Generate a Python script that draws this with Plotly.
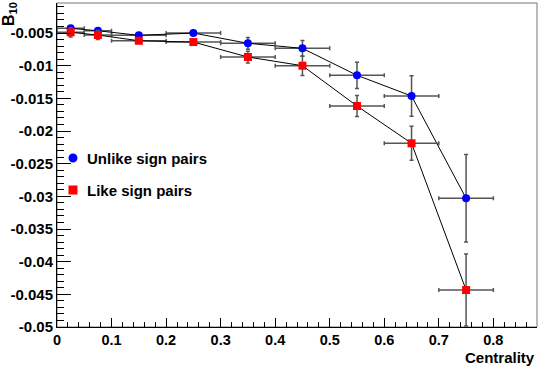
import plotly.graph_objects as go

centrality = [0.025, 0.075, 0.15, 0.25, 0.35, 0.45, 0.55, 0.65, 0.75]
centrality_err = [0.025, 0.025, 0.05, 0.05, 0.05, 0.05, 0.05, 0.05, 0.05]

unlike_vals = [-0.00428, -0.00465, -0.00535, -0.0050, -0.00657, -0.00734, -0.01147, -0.01464, -0.0303]
unlike_errs = [0.0004, 0.0004, 0.0002, 0.0002, 0.0009, 0.0012, 0.0020, 0.0031, 0.0067]

like_vals = [-0.00489, -0.00530, -0.00618, -0.00638, -0.00867, -0.0100, -0.01617, -0.02188, -0.04434]
like_errs = [0.0007, 0.0007, 0.0002, 0.0002, 0.0009, 0.0015, 0.0016, 0.0026, 0.0055]

x_tick_vals = [0, 0.1, 0.2, 0.3, 0.4, 0.5, 0.6, 0.7, 0.8]
x_tick_labels = ["0", "0.1", "0.2", "0.3", "0.4", "0.5", "0.6", "0.7", "0.8"]
y_tick_vals = [-0.005, -0.01, -0.015, -0.02, -0.025, -0.03, -0.035, -0.04, -0.045, -0.05]
y_tick_labels = ["-0.005", "-0.01", "-0.015", "-0.02", "-0.025", "-0.03", "-0.035", "-0.04", "-0.045", "-0.05"]

unlike_name = "Unlike sign pairs"
like_name = "Like sign pairs"

FONT = "Liberation Sans, Arial, Helvetica, sans-serif"
ERRCOL = "#555555"

fig = go.Figure()

def add_series(yv, ye, color, symbol, name):
    fig.add_trace(go.Scatter(
        x=centrality, y=yv, mode="lines+markers", name=name,
        line=dict(color="black", width=1),
        marker=dict(color=color, symbol=symbol, size=8, line=dict(width=0)),
        error_x=dict(type="data", array=centrality_err, color=ERRCOL, thickness=1.5, width=2),
        error_y=dict(type="data", array=ye, color=ERRCOL, thickness=1.5, width=2),
        showlegend=False,
    ))

add_series(unlike_vals, unlike_errs, "#0000ff", "circle", unlike_name)
add_series(like_vals, like_errs, "#ff0000", "square", like_name)

fig.update_layout(
    width=540, height=369,
    margin=dict(l=57, r=3, t=3, b=42),
    paper_bgcolor="white", plot_bgcolor="white",
    xaxis=dict(
        range=[0, 0.88], tickmode="array", tickvals=x_tick_vals, ticktext=x_tick_labels,
        ticks="inside", ticklen=9, tickwidth=1, automargin=False, tickangle=0,
        tickcolor="black", showline=True, linecolor="black", linewidth=1,
        showgrid=False, zeroline=False,
        tickfont=dict(family=FONT, size=14.5, color="black", weight="bold"),
        minor=dict(tick0=0, dtick=0.02, ticks="inside", ticklen=5, tickcolor="black", showgrid=False),
    ),
    yaxis=dict(
        range=[-0.05, -0.0004], tickmode="array", tickvals=y_tick_vals, ticktext=y_tick_labels,
        ticks="inside", ticklen=14, automargin=False,
        tickwidth=1, tickcolor="black", showline=True, linecolor="black", linewidth=1,
        showgrid=False, zeroline=False,
        tickfont=dict(family=FONT, size=15, color="black", weight="bold"),
        minor=dict(tick0=-0.05, dtick=0.001, ticks="inside", ticklen=7, tickcolor="black", showgrid=False),
    ),
    font=dict(family=FONT),
)

# frame top/right
fig.add_shape(type="rect", xref="paper", yref="paper", x0=0, y0=0, x1=1, y1=1,
              line=dict(color="#777777", width=1), layer="below")

# axis titles
fig.add_annotation(text="Centrality", xref="paper", yref="paper", x=1.0, y=-0.0926,
                   xanchor="right", yanchor="middle", showarrow=False,
                   font=dict(family=FONT, size=15, color="black", weight="bold"))
fig.add_annotation(text="B<sub>10</sub>", xref="paper", yref="paper", x=-0.1, y=1.009,
                   xanchor="center", yanchor="top", textangle=-90, showarrow=False,
                   font=dict(family=FONT, size=16, color="black", weight="bold"))

# legend
leg = [(unlike_name, "circle", "#0000ff", 0.5216), (like_name, "rect", "#ff0000", 0.4228)]
for name, shp, col, yy in leg:
    fig.add_shape(type=shp, xref="paper", yref="paper", xsizemode="pixel", ysizemode="pixel",
                  xanchor=0.0333, yanchor=yy, x0=-4.5, x1=4.5, y0=-4.5, y1=4.5,
                  fillcolor=col, line=dict(width=0))
    fig.add_annotation(text=name, xref="paper", yref="paper", x=0.0583, y=yy,
                       xanchor="left", yanchor="middle", showarrow=False,
                       font=dict(family=FONT, size=15, color="black", weight="bold"))

fig.write_html("out.html", config={"displayModeBar": False},
               post_script="document.body.style.margin='0';")
